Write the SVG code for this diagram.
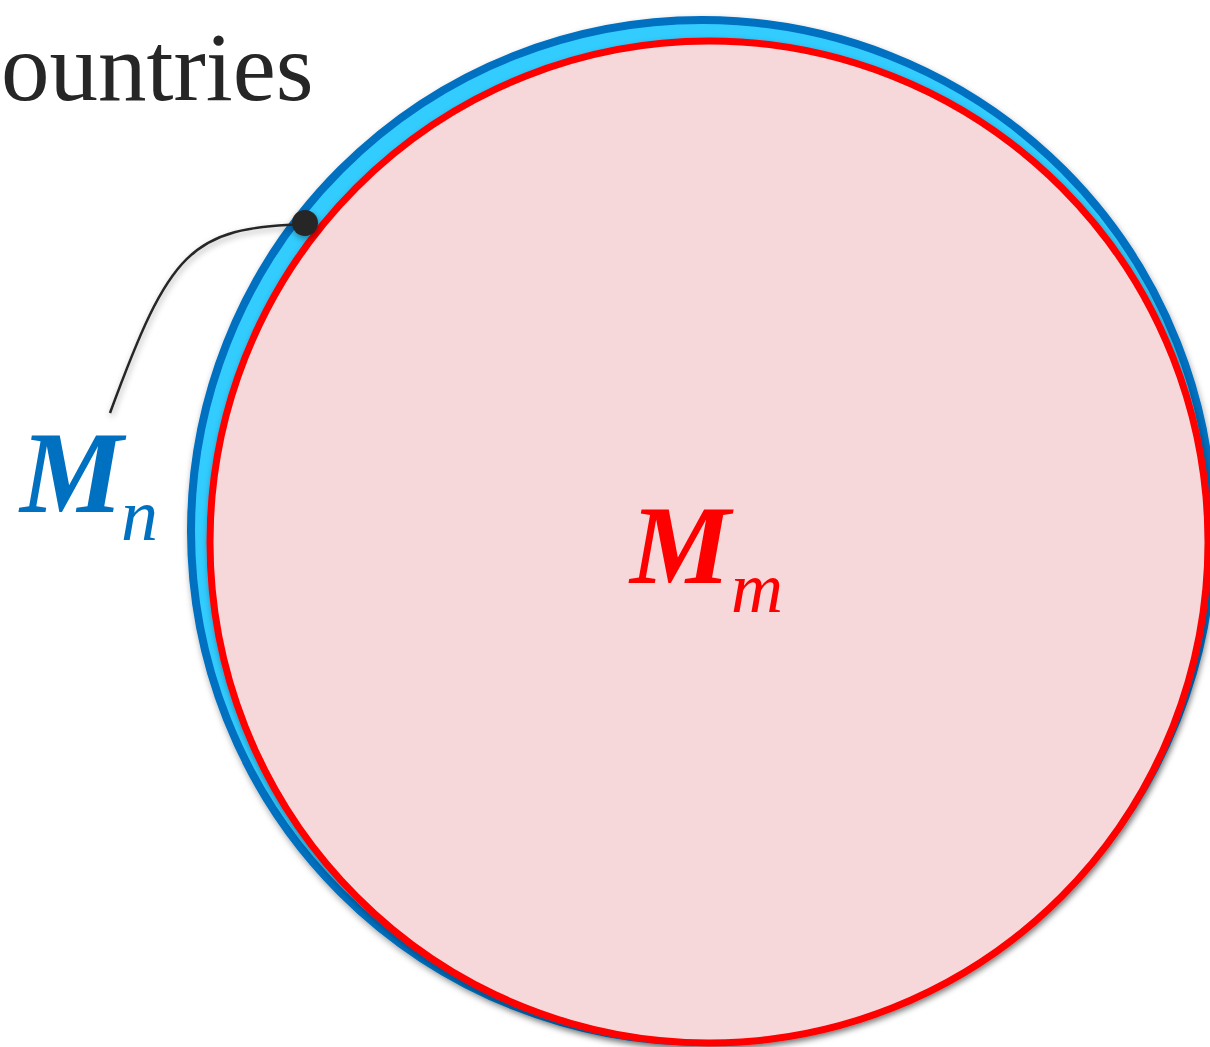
<svg xmlns="http://www.w3.org/2000/svg" width="1210" height="1047" viewBox="0 0 1210 1047">
<defs>
<filter id="sh" x="-10%" y="-10%" width="120%" height="120%">
<feDropShadow dx="1" dy="3" stdDeviation="3" flood-color="#000" flood-opacity="0.35"/>
</filter>
<style>
.serif{font-family:"Liberation Serif","DejaVu Serif",serif}
.lbl{font-family:"Liberation Serif","DejaVu Serif",serif;font-style:italic}
</style>
</defs>
<rect width="1210" height="1047" fill="#ffffff"/>
<text class="serif" x="1" y="100" font-size="97" fill="#262626">ountries</text>
<g id="Mn-circle" filter="url(#sh)">
<circle cx="702" cy="531" r="511" fill="#33CCFF" stroke="#0070C0" stroke-width="8"/>
</g>
<g id="Mm-circle" filter="url(#sh)">
<ellipse cx="709" cy="542" rx="499" ry="501" fill="#F6D8DB" stroke="#FF0000" stroke-width="7"/>
</g>
<g id="connectors" filter="url(#sh)">
<path d="M305,224 C190,228 170,250 110,413" fill="none" stroke="#262626" stroke-width="2.5"/>
<circle cx="305" cy="223" r="13" fill="#262626"/>
</g>
<g id="Mn-label">
<text class="lbl" x="20" y="512" font-size="116" font-weight="bold" fill="#0070C0">M</text>
<text class="lbl" x="121" y="540" font-size="74" fill="#0070C0">n</text>
</g>
<g id="Mm-label">
<text class="lbl" x="630" y="583" font-size="113" font-weight="bold" fill="#FF0000">M</text>
<text class="lbl" x="731" y="612" font-size="72" fill="#FF0000">m</text>
</g>
</svg>
